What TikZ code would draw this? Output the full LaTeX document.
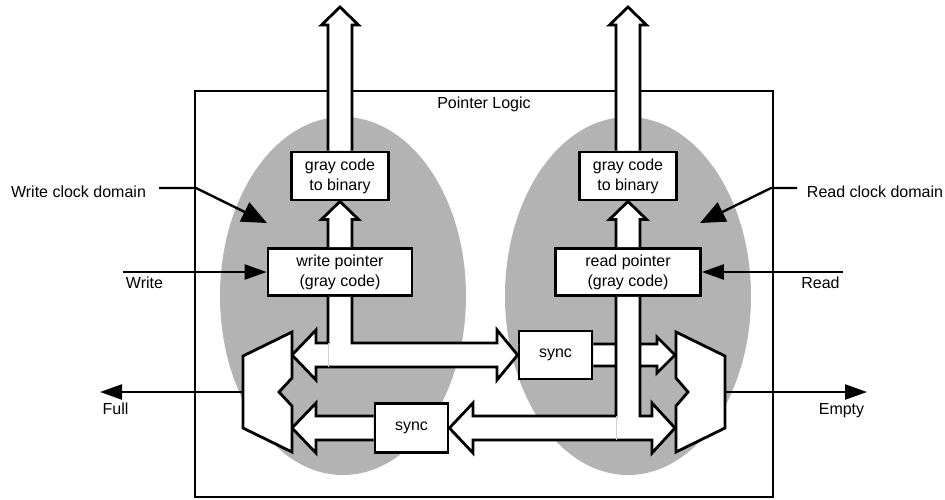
\documentclass[tikz,border=0pt]{standalone}
\usepackage{fontspec}
\setmainfont{Liberation Sans}
\usetikzlibrary{arrows.meta,calc}
\definecolor{domainfill}{RGB}{179,179,179}

% wide upward bus arrow from anchor #1 to tip #2
\newcommand{\busup}[2]{%
  \draw[bus] ($(#1)+(-12,0)$) -- ($(#2)+(-12,18)$) -- ($(#2)+(-18.5,18)$) -- (#2)
    -- ($(#2)+(18.5,18)$) -- ($(#2)+(12,18)$) -- ($(#1)+(12,0)$);}

\begin{document}
\begin{tikzpicture}[x=1pt,y=-1pt,
  font=\fontsize{16}{20}\selectfont,
  blk/.style={draw,line width=2.8pt,fill=white,align=center,inner sep=0pt},
  bus/.style={draw,line width=2.8pt,fill=white,line join=miter},
  seam/.style={line width=1pt,black!18},
  wire/.style={line width=2.4pt},
  sig/.style={wire,-{Triangle[length=22pt,width=15pt]}},
  hint/.style={wire,-{Triangle[length=25pt,width=21pt]}},
]
\useasboundingbox (0,0) rectangle (945,499);

% clock domains
\fill[fill=domainfill] (343,296) ellipse [x radius=123pt, y radius=179pt];
\fill[fill=domainfill] (628,296) ellipse [x radius=123pt, y radius=179pt];

% enclosing block
\node[draw,line width=2pt,minimum width=578pt,minimum height=406pt,inner sep=0pt] (logic) at (484,294) {};
\node[anchor=base] (title) at (484,108) {Pointer Logic};

% blocks
\node[blk,minimum width=97pt,minimum height=48pt]  (g2bL)  at (340,176)   {gray code\\to binary};
\node[blk,minimum width=144pt,minimum height=47pt] (wp)    at (340,272)   {write pointer\\(gray code)};
\node[blk,minimum width=97pt,minimum height=48pt]  (g2bR)  at (628,176)   {gray code\\to binary};
\node[blk,minimum width=145pt,minimum height=47pt] (rp)    at (628,272)   {read pointer\\(gray code)};
\node[blk,minimum width=73pt,minimum height=48pt]  (syncU) at (555.5,355) {sync};
\node[blk,minimum width=73pt,minimum height=49pt]  (syncL) at (411.5,428) {sync};

% bus end points
\coordinate (outL) at (340,7);
\coordinate (outR) at (628,7);
\coordinate (lmA) at (292,355);
\coordinate (lmB) at (292,428);
\coordinate (rmA) at (675,355);
\coordinate (rmB) at (675,428);

% output buses
\busup{g2bL.north}{outL}
\busup{wp.north}{g2bL.south}
\busup{g2bR.north}{outR}
\busup{rp.north}{g2bR.south}

% synchronised read pointer to the empty comparator
\draw[bus] ($(syncU.east)+(0,-11)$) -- (657,344) -- (657,337) -- (rmA)
  -- (657,373) -- (657,366) -- ($(syncU.east)+(0,11)$);

% synchronised write pointer to the full comparator
\draw[bus] ($(syncL.west)+(0,-12)$) -- (316,416) -- (316,403) -- (lmB)
  -- (316,453) -- (316,440) -- ($(syncL.west)+(0,12)$);

% write pointer bus
\draw[bus] ($(wp.south)+(-12,0)$) |- (316,343) -- (316,330) -- (lmA) -- (316,380)
  -- (316,367) -- (497,367) -- (497,380) -- (syncU.west) -- (497,330) -- (497,343)
  -| ($(wp.south)+(12,0)$);
\draw[seam] (328,343) -- (328,367);

% read pointer bus
\draw[bus] ($(rp.south)+(-12,0)$) |- (473,416) -- (473,403) -- (syncL.east) -- (473,453)
  -- (473,440) -- (652,440) -- (652,453) -- (rmB) -- (652,403) -- (652,416)
  -| ($(rp.south)+(12,0)$);
\draw[seam] (616,416) -- (616,440);

% comparators
\draw[bus] (292,332) -- (292,378) -- (279,392) -- (292,406) -- (292,452)
  -- (243,428) -- (243,356) -- cycle;
\draw[bus] (676,332) -- (725,356) -- (725,428) -- (676,452) -- (676,406)
  -- (688,392) -- (676,378) -- cycle;
\coordinate (lmOut) at (243,392);
\coordinate (rmOut) at (725,392);

% external signals
\coordinate (wIn) at (123,272);
\coordinate (rIn) at (843,272);
\coordinate (fullEnd) at (100,392);
\coordinate (emptyEnd) at (867,392);
\draw[sig] (wIn) -- (wp.west);
\draw[sig] (rIn) -- (rp.east);
\draw[sig] (lmOut) -- (fullEnd);
\draw[sig] (rmOut) -- (emptyEnd);
\node[anchor=base] (wlab) at (144.5,288) {Write};
\node[anchor=base] (rlab) at (820.5,288) {Read};
\node[anchor=base] (flab) at (115.5,414) {Full};
\node[anchor=base] (elab) at (841.5,414) {Empty};

% clock domain labels
\node[anchor=base] (wcd) at (78.5,197) {Write clock domain};
\node[anchor=base] (rcd) at (875,197) {Read clock domain};
\coordinate (wcdA) at (159,188);
\coordinate (wcdB) at (196,188);
\coordinate (wcdTip) at (267,223);
\coordinate (rcdA) at (797,188);
\coordinate (rcdB) at (771,188);
\coordinate (rcdTip) at (700,223);
\draw[hint] (wcdA) -- (wcdB) -- (wcdTip);
\draw[hint] (rcdA) -- (rcdB) -- (rcdTip);
\end{tikzpicture}
\end{document}
